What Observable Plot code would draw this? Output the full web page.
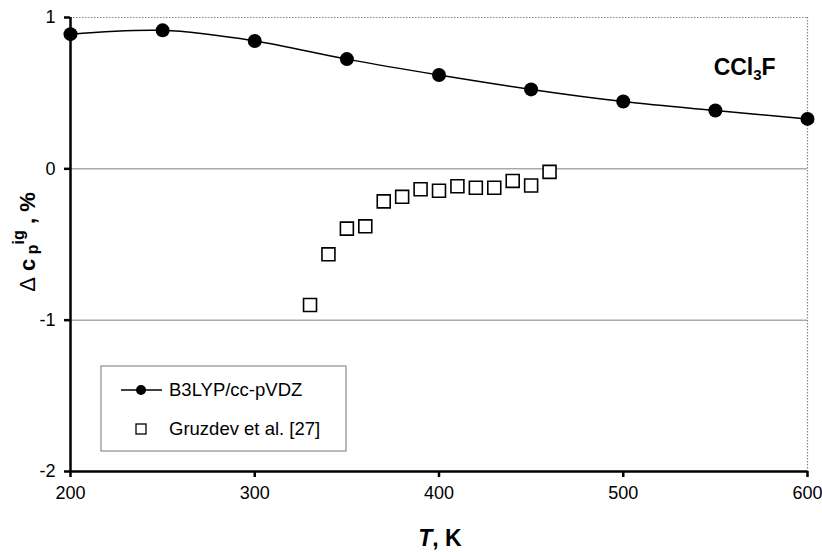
<!DOCTYPE html>
<html>
<head>
<meta charset="utf-8">
<script src="https://cdn.jsdelivr.net/npm/d3@7"></script>
<script src="https://cdn.jsdelivr.net/npm/@observablehq/plot@0.6"></script>
<style>
  html, body { margin: 0; padding: 0; background: #fff; }
  svg { font-family: "Liberation Sans", Arial, sans-serif; }
</style>
</head>
<body>
<div id="chart"></div>
<script>
// Temperatures (K) and deviations (%) of the ideal-gas heat capacity of CCl3F
const calcT = [200, 250, 300, 350, 400, 450, 500, 550, 600];
const calcDev = [0.89, 0.915, 0.845, 0.725, 0.62, 0.525, 0.445, 0.385, 0.33];

const expT = [330, 340, 350, 360, 370, 380, 390, 400, 410, 420, 430, 440, 450, 460];
const expDev = [-0.90, -0.565, -0.395, -0.38, -0.215, -0.185, -0.135, -0.145, -0.115, -0.125, -0.125, -0.08, -0.11, -0.02];

const xTicks = [200, 300, 400, 500, 600];
const yTicks = [-2, -1, 0, 1];
const seriesNames = ["B3LYP/cc-pVDZ", "Gruzdev et al. [27]"];

const calc = calcT.map((t, i) => ({T: t, dev: calcDev[i]}));
const exp = expT.map((t, i) => ({T: t, dev: expDev[i]}));

const chart = Plot.plot({
  width: 822,
  height: 552,
  marginLeft: 70,
  marginRight: 15,
  marginTop: 17,
  marginBottom: 81,
  style: {fontFamily: "'Liberation Sans', Arial, sans-serif", background: "#fff", color: "#000"},
  x: {domain: [200, 600]},
  y: {domain: [-2, 1]},
  marks: [
    Plot.ruleY([0, -1], {stroke: "#808080", strokeWidth: 1}),
    Plot.ruleY([1], {stroke: "#888", strokeWidth: 1.2, strokeDasharray: "1.5,1.5"}),
    Plot.ruleX([600], {stroke: "#888", strokeWidth: 1.2, strokeDasharray: "1.5,1.5"}),
    Plot.ruleX([200], {stroke: "#000", strokeWidth: 2.5}),
    Plot.ruleY([-2], {stroke: "#000", strokeWidth: 2.5}),
    Plot.axisX({ticks: xTicks, tickSize: 6, tickPadding: 9, fontSize: 18, strokeWidth: 2.5, label: null, tickFormat: d => String(d)}),
    Plot.axisY({ticks: yTicks, tickSize: 6, tickPadding: 9, fontSize: 18, strokeWidth: 2.5, label: null, tickFormat: d => String(d).replace("−", "-")}),
    Plot.line(calc, {x: "T", y: "dev", curve: "catmull-rom", stroke: "#000", strokeWidth: 1.5}),
    Plot.dot(calc, {x: "T", y: "dev", r: 7, fill: "#000", stroke: "none"}),
    Plot.dot(exp, {x: "T", y: "dev", symbol: "square", r: 7.3, fill: "#fff", stroke: "#000", strokeWidth: 1.6})
  ]
});

document.getElementById("chart").append(chart);

const svg = d3.select(chart);
const sx = chart.scale("x");
const sy = chart.scale("y");

// Tick label size
svg.selectAll('g[aria-label$="tick label"]').attr("font-size", 18).style("font-size", "18px");

// Compound label
const comp = svg.append("text")
  .attr("x", sx.apply(583)).attr("y", sy.apply(0.615))
  .attr("text-anchor", "end")
  .attr("font-size", 23).attr("font-weight", "bold").attr("fill", "#000");
comp.append("tspan").text("CCl");
comp.append("tspan").attr("font-size", 15).attr("dy", 5).text("3");
comp.append("tspan").attr("dy", -5).text("F");

// X-axis title
const xt = svg.append("text")
  .attr("x", 440).attr("y", 546)
  .attr("text-anchor", "middle")
  .attr("font-size", 23).attr("font-weight", "bold").attr("fill", "#000");
xt.append("tspan").attr("font-style", "italic").text("T");
xt.append("tspan").text(", K");

// Y-axis title
const yt = svg.append("text")
  .attr("transform", "translate(35,242) rotate(-90)")
  .attr("text-anchor", "middle")
  .attr("font-size", 22).attr("font-weight", "bold").attr("fill", "#000");
yt.append("tspan").attr("font-weight", "normal").text("\u0394");
yt.append("tspan").text(" c");
yt.append("tspan").attr("font-size", 16).attr("dy", 3).text(" p");
yt.append("tspan").attr("font-size", 16).attr("dy", -14).text("ig");
yt.append("tspan").attr("dy", 11).text(" , %");

// Legend
const lg = svg.append("g").attr("text-anchor", "start");
lg.append("rect")
  .attr("x", 101).attr("y", 366).attr("width", 245).attr("height", 85)
  .attr("fill", "#fff").attr("stroke", "#777").attr("stroke-width", 1);
lg.append("line")
  .attr("x1", 121).attr("x2", 162).attr("y1", 390).attr("y2", 390)
  .attr("stroke", "#000").attr("stroke-width", 1.5);
lg.append("circle").attr("cx", 141).attr("cy", 390).attr("r", 5).attr("fill", "#000");
lg.append("rect")
  .attr("x", 136).attr("y", 424).attr("width", 10).attr("height", 10)
  .attr("fill", "#fff").attr("stroke", "#000").attr("stroke-width", 1.3);
lg.selectAll("text.entry").data(seriesNames).join("text")
  .attr("class", "entry")
  .attr("x", 169).attr("y", (d, i) => 390 + i * 39)
  .attr("dy", "0.35em")
  .attr("text-anchor", "start")
  .attr("font-size", 18.5).attr("fill", "#000")
  .text(d => d);
</script>
</body>
</html>
